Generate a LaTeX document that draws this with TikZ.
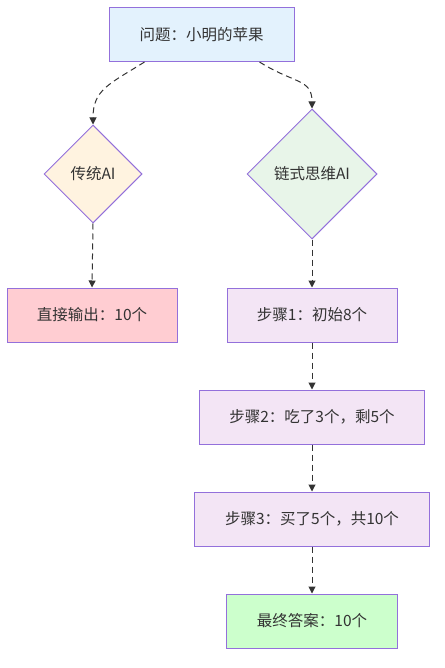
\documentclass[tikz,border=0pt]{standalone}
\usepackage{fontspec}
\setmainfont{Noto Sans CJK SC}
\usetikzlibrary{shapes.geometric,arrows.meta}
\definecolor{bd}{HTML}{9370DB}
\definecolor{txt}{HTML}{333333}
\definecolor{cq}{HTML}{E3F2FD}
\definecolor{ct}{HTML}{FFF3E0}
\definecolor{cc}{HTML}{E8F5E9}
\definecolor{cd}{HTML}{FFCDD2}
\definecolor{cs}{HTML}{F3E5F5}
\definecolor{cf}{HTML}{CCFFCC}
\begin{document}
\begin{tikzpicture}[x=1pt,y=-1pt,
  every node/.style={font=\fontsize{15.5}{18}\selectfont, text=txt, inner sep=0pt},
  boxnode/.style={rectangle, draw=bd, line width=1pt, minimum height=54pt},
  dia/.style={diamond, aspect=1, draw=bd, line width=1pt},
  conn/.style={draw=txt, line width=1pt, dash pattern=on 6pt off 4pt, -{Triangle[length=7pt,width=7pt]}}]
\useasboundingbox (0,0) rectangle (444,668);
\node[boxnode, fill=cq, minimum width=185pt] (q) at (201.5,34.5) {问题：小明的苹果};
\node[dia, fill=ct, minimum width=98pt, minimum height=98pt] (ta) at (93,174) {传统AI};
\node[dia, fill=cc, minimum width=130pt, minimum height=130pt] (ca) at (312,174) {链式思维AI};
\node[boxnode, fill=cd, minimum width=170pt] (d) at (92,315) {直接输出：10个};
\node[boxnode, fill=cs, minimum width=170pt] (s1) at (312,315) {步骤1：初始8个};
\node[boxnode, fill=cs, minimum width=225pt] (s2) at (312,417) {步骤2：吃了3个，剩5个};
\node[boxnode, fill=cs, minimum width=235pt] (s3) at (312,519) {步骤3：买了5个，共10个};
\node[boxnode, fill=cf, minimum width=171pt] (f) at (312,621) {最终答案：10个};
\draw[conn] ([xshift=-57pt]q.south) .. controls +(-35,22) and +(0,-35) .. (ta.north);
\draw[conn] ([xshift=58pt]q.south) .. controls +(35,22) and +(0,-30) .. (ca.north);
\draw[conn] (ta.south) -- (d.north);
\draw[conn] (ca.south) -- (s1.north);
\draw[conn] (s1.south) -- (s2.north);
\draw[conn] (s2.south) -- (s3.north);
\draw[conn] (s3.south) -- (f.north);
\end{tikzpicture}
\end{document}
